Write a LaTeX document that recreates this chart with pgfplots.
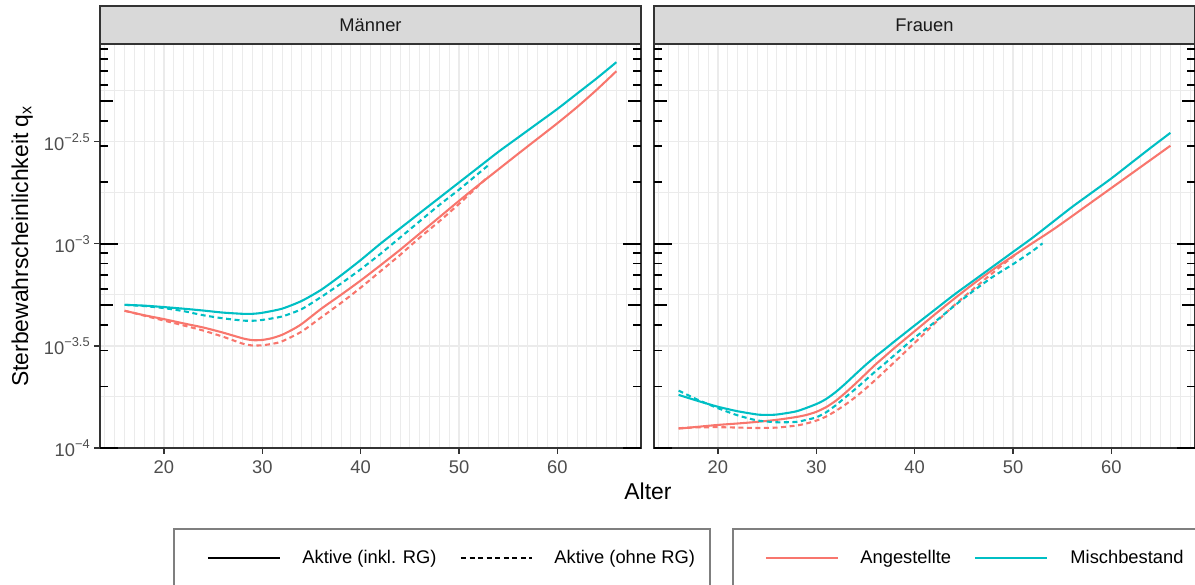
\documentclass[border=0pt]{standalone}
\usepackage{pgfplots}
\pgfplotsset{compat=1.18}
\usepackage{fontspec}
\setmainfont{Liberation Sans}
\definecolor{ang}{HTML}{F8766D}
\definecolor{misch}{HTML}{00BFC4}
\definecolor{gridc}{HTML}{EBEBEB}
\definecolor{grey20}{HTML}{333333}
\definecolor{grey30}{HTML}{4D4D4D}
\definecolor{grey85}{HTML}{D9D9D9}
\definecolor{grey10}{HTML}{1A1A1A}
\definecolor{legbox}{HTML}{7F7F7F}

\tikzset{
 inkl/.style={solid},
 ohne/.style={dash pattern=on 2.4pt off 1.7pt},
}
\pgfplotsset{
 panel/.style={
   scale only axis, width=259.68pt, height=193.92pt,
   xmin=13.5, xmax=68.5, ymin=-4, ymax=-2.022,
   clip=false,
   xtick={20,30,40,50,60}, minor xtick={14,15,...,68},
   ytick={-4,-3.5,-3,-2.5}, minor ytick={-3.75,-3.25,-2.75,-2.25},
   grid=both,
   major grid style={gridc, line width=0.65pt},
   minor grid style={gridc, line width=0.45pt},
   axis line style={grey20, line width=0.9pt},
   tick align=outside, major tick length=2.75pt, minor tick length=0pt,
   xtick pos=bottom, ytick pos=left,
   major tick style={grey20, line width=0.6pt},
   ticklabel style={font=\fontsize{8.8}{10}\selectfont, text=grey30},
   /pgf/number format/assume math mode=true,
   every axis plot/.append style={line width=1pt, line join=round, smooth, tension=0.4},
 },
}

\newcommand\lt[2]{%
  \draw[black, line width=0.9pt] (axis cs:13.5,#1) -- ([xshift=#2]axis cs:13.5,#1);
  \draw[black, line width=0.9pt] (axis cs:68.5,#1) -- ([xshift=-#2]axis cs:68.5,#1);
}
\newcommand\logticks{%
  \pgfplotsinvokeforeach{-3.69897,-3.52288,-3.39794,-3.22185,-3.15490,-3.09691,-3.04576,-2.69897,-2.52288,-2.39794,-2.22185,-2.15490,-2.09691,-2.04576}{\lt{##1}{3.84pt}}%
  \pgfplotsinvokeforeach{-3.30103,-2.30103}{\lt{##1}{6.24pt}}%
  \pgfplotsinvokeforeach{-4,-3}{\lt{##1}{8.64pt}}%
}
\newcommand\strip[1]{%
  \draw[grey20, line width=0.9pt, fill=grey85] (rel axis cs:0,1) rectangle (rel axis cs:1,1.0941);
  \node[text=grey10, font=\fontsize{8.8}{10}\selectfont] at (rel axis cs:0.5,1.047) {#1};
}

\begin{document}
\begin{tikzpicture}
\path[use as bounding box] (0,0) rectangle (573.6pt,-280.8pt);
\clip (0,0) rectangle (573.6pt,-280.8pt);

% ---------------- Maenner ----------------
\begin{axis}[panel,
  at={(48pt,-215.04pt)}, anchor=south west,
  yticklabels={{10\textsuperscript{−4}},{10\textsuperscript{−3.5}},{10\textsuperscript{−3}},{10\textsuperscript{−2.5}}},
  yticklabel style={inner sep=1.5pt},
  ylabel={Sterbewahrscheinlichkeit q\textsubscript{x}},
  ylabel style={at={(axis description cs:-0.144,0.5)}, anchor=center, font=\fontsize{11}{13}\selectfont},
  xlabel={Alter},
  xlabel style={at={(axis description cs:1.0129,-0.1077)}, anchor=center, font=\fontsize{11}{13}\selectfont},
]
% Angestellte, inkl. RG
\addplot[ang, inkl] table {
16 -3.328
18 -3.350
20 -3.369
22 -3.390
24 -3.410
26 -3.435
28 -3.463
29 -3.472
30 -3.471
31 -3.462
32 -3.446
33 -3.422
34 -3.393
36 -3.318
38 -3.250
40 -3.180
42 -3.106
44 -3.030
46 -2.950
48 -2.870
50 -2.790
52 -2.712
54 -2.636
56 -2.560
58 -2.485
60 -2.410
62 -2.331
64 -2.246
66 -2.155
};
% Mischbestand, inkl. RG
\addplot[misch, inkl] table {
16 -3.299
18 -3.303
20 -3.310
22 -3.318
24 -3.327
26 -3.337
28 -3.343
29 -3.343
30 -3.338
32 -3.318
34 -3.280
36 -3.225
38 -3.155
40 -3.080
42 -3.000
44 -2.925
46 -2.850
48 -2.775
50 -2.700
52 -2.625
54 -2.550
56 -2.480
58 -2.410
60 -2.340
62 -2.265
64 -2.190
66 -2.111
};
% Angestellte, ohne RG
\addplot[ang, ohne] table {
16 -3.328
18 -3.352
20 -3.376
22 -3.400
24 -3.425
26 -3.455
28 -3.489
29 -3.498
30 -3.497
31 -3.490
32 -3.478
34 -3.430
36 -3.360
38 -3.290
40 -3.215
42 -3.135
44 -3.055
46 -2.970
48 -2.890
50 -2.805
52 -2.715
53 -2.670
};
% Mischbestand, ohne RG
\addplot[misch, ohne] table {
16 -3.299
18 -3.305
20 -3.315
22 -3.330
24 -3.350
26 -3.365
28 -3.376
29 -3.377
30 -3.373
32 -3.356
34 -3.320
36 -3.260
38 -3.195
40 -3.125
42 -3.050
44 -2.970
46 -2.890
48 -2.810
50 -2.735
52 -2.655
53 -2.615
};
\logticks
\strip{Männer}
\end{axis}

% ---------------- Frauen ----------------
\begin{axis}[panel,
  at={(313.92pt,-215.04pt)}, anchor=south west,
  yticklabels={}, ytick style={draw=none},
]
\addplot[ang, inkl] table {
16 -3.905
18 -3.896
20 -3.887
22 -3.880
24 -3.872
26 -3.862
28 -3.848
29 -3.838
30 -3.823
31 -3.800
32 -3.768
33 -3.728
34 -3.684
35 -3.638
36 -3.592
37 -3.550
38 -3.508
40 -3.428
42 -3.348
44 -3.270
46 -3.195
48 -3.125
50 -3.060
52 -2.996
54 -2.933
56 -2.865
58 -2.796
60 -2.727
62 -2.658
64 -2.589
66 -2.520
};
\addplot[misch, inkl] table {
16 -3.740
18 -3.770
20 -3.798
22 -3.820
24 -3.836
25 -3.838
26 -3.836
28 -3.820
30 -3.785
31 -3.760
32 -3.725
33 -3.683
34 -3.638
35 -3.594
36 -3.553
37 -3.515
38 -3.476
40 -3.400
42 -3.325
44 -3.250
46 -3.180
48 -3.110
50 -3.040
52 -2.970
54 -2.895
56 -2.820
58 -2.750
60 -2.680
62 -2.605
64 -2.530
66 -2.457
};
\addplot[ang, ohne] table {
16 -3.903
18 -3.899
20 -3.898
22 -3.900
24 -3.902
26 -3.900
28 -3.890
29 -3.880
30 -3.866
31 -3.846
32 -3.818
33 -3.786
34 -3.750
35 -3.710
36 -3.667
37 -3.622
38 -3.577
40 -3.485
42 -3.392
44 -3.302
46 -3.220
48 -3.140
50 -3.062
50.5 -3.045
};
\addplot[misch, ohne] table {
16 -3.719
18 -3.765
20 -3.805
22 -3.840
24 -3.865
26 -3.874
28 -3.872
29 -3.862
30 -3.850
31 -3.825
32 -3.790
33 -3.750
34 -3.710
35 -3.668
36 -3.625
37 -3.585
38 -3.543
40 -3.460
42 -3.385
44 -3.305
46 -3.230
48 -3.160
50 -3.100
52 -3.035
53 -2.998
};
\logticks
\strip{Frauen}
\end{axis}

% ---------------- Legends ----------------
\begin{scope}[x=0.48pt, y=-0.48pt]
\draw[legbox, line width=0.75pt] (174,529) rectangle (710,600);
\draw[black, line width=1pt] (208,558) -- (280,558);
\node[anchor=base west, inner sep=0pt, font=\fontsize{8.8}{10}\selectfont] at (302,564) {Aktive (inkl. RG)};
\draw[black, line width=1pt, ohne] (461,558) -- (532,558);
\node[anchor=base west, inner sep=0pt, font=\fontsize{8.8}{10}\selectfont] at (554,564) {Aktive (ohne RG)};
\draw[legbox, line width=0.75pt] (733,529) rectangle (1210,600);
\draw[ang, line width=1pt] (766,558) -- (838,558);
\node[anchor=base west, inner sep=0pt, font=\fontsize{8.8}{10}\selectfont] at (860,564) {Angestellte};
\draw[misch, line width=1pt] (975,558) -- (1047,558);
\node[anchor=base west, inner sep=0pt, font=\fontsize{8.8}{10}\selectfont] at (1070,564) {Mischbestand};
\end{scope}
\end{tikzpicture}
\end{document}
